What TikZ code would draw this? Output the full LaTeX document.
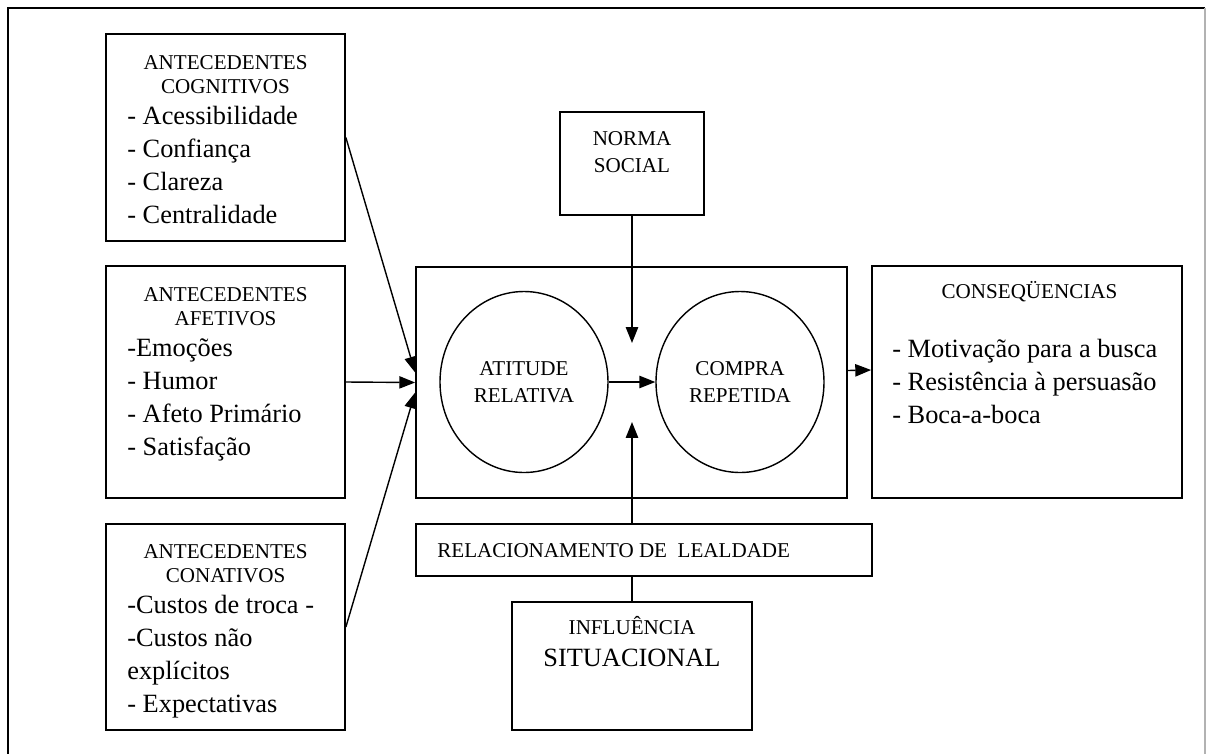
\documentclass[tikz,border=0pt]{standalone}
\usepackage{fontspec}
\setmainfont{Liberation Serif}
\usetikzlibrary{shapes.geometric,arrows.meta,calc,positioning}
\newcommand{\fonttit}{\fontsize{12}{13.6}\selectfont}
\newcommand{\fontcirc}{\fontsize{12}{15.3}\selectfont}
\newcommand{\fontitem}{\fontsize{15}{18.7}\selectfont}
\tikzset{caixa/.style={rectangle,draw=black,line width=1pt,inner sep=0pt}}
\tikzset{circ/.style={ellipse,draw=black,line width=.8pt,minimum width=3.36cm,minimum height=3.62cm,inner sep=0pt,align=center,font=\fontcirc}}
\tikzset{tit/.style={anchor=base,align=center,inner sep=0pt,font=\fonttit}}
\tikzset{itens/.style={anchor=base west,align=left,inner sep=0pt,font=\fontitem}}
\tikzset{seta/.style={-{Triangle[length=9pt,width=7pt]},line width=.8pt}}

\begin{document}
\begin{tikzpicture}
\useasboundingbox (0,0) rectangle (24.12,-15.06);
% moldura
\draw [line width=.9pt] (0.16,-15.2) -- (0.16,-0.16) -- (24.1,-0.16);
\draw [line width=.6pt,gray!60] (24.1,-0.16) -- (24.1,-15.2);

% antecedentes (base = ultima linha)
\node [caixa,minimum width=4.78cm,minimum height=4.14cm] at (4.51,-2.75) (cogn) {};
\node [tit] at (4.51,-1.86) (cognt) {ANTECEDENTES\\COGNITIVOS};
\node [itens] at (2.54,-4.46) (cogni) {- Acessibilidade\\- Confiança\\- Clareza\\- Centralidade};

\node [caixa,minimum width=4.78cm,minimum height=4.64cm] at (4.51,-7.64) (afet) {};
\node [tit] at (4.51,-6.5) (afett) {ANTECEDENTES\\AFETIVOS};
\node [itens] at (2.54,-9.1) (afeti) {-Emoções\\- Humor\\- Afeto Primário\\- Satisfação};

\node [caixa,minimum width=4.78cm,minimum height=4.12cm] at (4.51,-12.54) (conat) {};
\node [tit] at (4.51,-11.64) (conatt) {ANTECEDENTES\\CONATIVOS};
\node [itens] at (2.54,-14.24) (conati) {-Custos de troca -\\-Custos não\\explícitos\\- Expectativas};

% centro
\node [caixa,minimum width=8.62cm,minimum height=4.62cm] at (12.63,-7.65) (central) {};
\node [circ] at (10.48,-7.64) (atit) {ATITUDE\\RELATIVA};
\node [circ] at (14.8,-7.64) (compra) {COMPRA\\REPETIDA};

\node [caixa,minimum width=2.88cm,minimum height=2.06cm] at (12.64,-3.27) (norma) {};
\node [tit,font=\fontcirc] at (12.64,-3.44) (normat) {NORMA\\SOCIAL};

\node [caixa,minimum width=6.2cm,minimum height=4.64cm] at (20.54,-7.64) (cons) {};
\node [tit] at (20.59,-5.96) (const) {CONSEQÜENCIAS};
\node [itens] at (17.84,-8.46) (consi) {- Motivação para a busca\\- Resistência à persuasão\\- Boca-a-boca};

\node [caixa,minimum width=9.12cm,minimum height=1.04cm] at (12.88,-11.0) (rel) {};
\node [tit,anchor=base west] at (8.74,-11.14) (relt) {RELACIONAMENTO DE \ LEALDADE};

\node [caixa,minimum width=4.8cm,minimum height=2.56cm] at (12.64,-13.32) (infl) {};
\node [tit] at (12.64,-12.68) (inflt) {INFLUÊNCIA};
\node [tit,font=\fontitem] at (12.64,-13.32) (infls) {SITUACIONAL};

\coordinate (nortip) at (12.64,-6.86);
\coordinate (reltip) at (12.64,-8.44);

% setas
\draw [seta] (cogn.east) -- ($(central.west)+(0,0.2)$);
\draw [seta] (afet.east) -- (central.west);
\draw [seta] (conat.east) -- ($(central.west)+(0,-0.2)$);
\draw [seta] (atit.east) -- (compra.west);
\draw [seta] (norma.south) -- (nortip);
\draw [seta] (norma.south |- rel.north) -- (reltip);
\draw [line width=.8pt] (infl.north) -- (infl.north |- rel.south);
\draw [seta] ($(central.east)+(0,0.24)$) -- ($(cons.west)+(0,0.24)$);
\end{tikzpicture}
\end{document}
